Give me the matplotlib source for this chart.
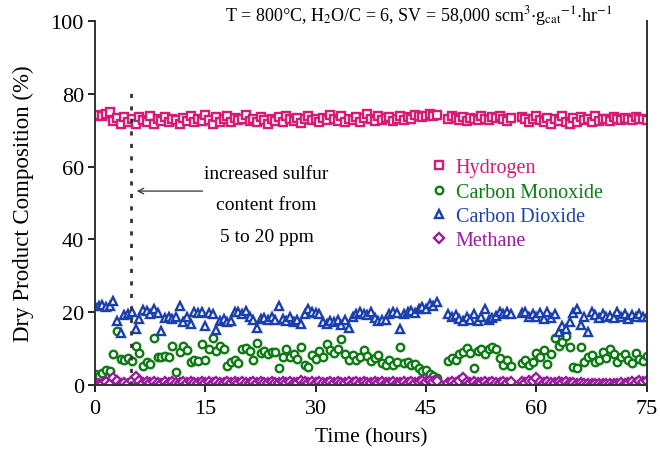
import numpy as np
import matplotlib
matplotlib.use('Agg')
import matplotlib.pyplot as plt

plt.rcParams['font.family'] = ['Liberation Serif', 'DejaVu Serif']
plt.rcParams['mathtext.fontset'] = 'stix'

# sampling every half hour, two short gaps in the record
gap_hours = [47.0, 47.5, 57.0, 57.5]
hours = np.array([h for h in np.arange(0, 75.01, 0.5) if h not in gap_hours])

hydrogen = [
    74.0, 74.2, 74.0, 74.6, 75.0, 72.6, 73.4, 71.8, 73.6, 72.4,
    73.0, 71.6, 73.6, 72.8, 72.2, 73.8, 71.8, 73.2, 72.6, 73.6,
    72.4, 73.0, 72.8, 71.8, 73.4, 72.6, 73.8, 72.2, 73.0, 72.6,
    74.2, 72.8, 71.8, 73.6, 72.4, 73.0, 73.8, 72.2, 73.4, 72.8,
    73.2, 74.2, 72.6, 73.0, 72.4, 73.6, 72.8, 71.8, 73.2, 72.6,
    73.6, 72.2, 74.0, 73.2, 72.6, 73.4, 72.0, 73.0, 73.8, 72.8,
    73.2, 72.4, 73.4, 72.8, 74.2, 73.0, 72.6, 73.8, 72.4, 73.2,
    72.8, 73.6, 72.2, 73.4, 74.4, 73.0, 72.6, 73.8, 72.8, 73.4,
    73.6, 72.6, 73.2, 74.0, 72.8, 73.6, 73.2, 74.2, 74.0, 73.6,
    74.0, 74.4, 73.8, 74.2,
    73.0, 73.8, 73.4, 72.8,
    73.6, 72.6, 73.4, 73.0, 72.8, 73.8, 73.2, 72.8, 73.6, 73.4,
    73.8, 73.0, 72.6, 73.4,
    73.6, 73.0, 72.4, 73.2,
    73.8, 72.8, 72.2, 73.4, 71.8, 73.0, 72.6, 73.8, 72.4, 71.6,
    73.4, 72.2, 73.6, 72.8, 73.0, 72.4, 73.8, 72.6, 73.2, 73.0,
    72.6, 73.6, 73.0, 72.8, 73.4, 73.2, 72.8, 73.6, 73.0, 73.2, 72.8,
]

carbon_monoxide = [
    3.0, 2.6, 3.4, 4.2, 3.8, 8.6, 14.8, 7.2, 6.8, 7.4,
    6.6, 10.6, 8.8, 5.2, 6.4, 5.8, 13.0, 7.8, 7.6, 8.0,
    7.8, 10.6, 3.6, 9.0, 10.8, 9.6, 6.4, 6.8, 6.6, 11.4,
    6.8, 10.0, 13.0, 9.4, 10.6, 9.8, 5.2, 6.4, 7.0, 6.0,
    9.8, 10.2, 9.4, 6.8, 11.6, 8.8, 9.4, 8.6, 9.2, 9.0,
    4.8, 7.6, 10.0, 7.8, 8.4, 7.2, 10.4, 5.6, 5.0, 8.2,
    7.2, 9.4, 7.8, 11.2, 9.6, 8.8, 10.0, 12.6, 8.4, 7.0,
    8.2, 6.8, 7.6, 9.6, 8.0, 6.6, 7.4, 8.2, 6.0, 5.6,
    6.8, 5.4, 6.2, 10.4, 6.0, 6.4, 5.6, 5.8, 4.6, 3.8,
    4.2, 3.0, 2.6, 1.8,
    6.6, 7.4, 6.8, 8.6,
    9.0, 10.2, 8.8, 4.8, 9.4, 10.0, 8.6, 9.8, 10.4, 10.0,
    7.4, 5.6, 6.8, 5.2,
    6.0, 7.0, 5.4, 6.4,
    8.8, 7.6, 9.6, 5.8, 8.4, 12.8, 10.8, 11.8, 13.4, 10.4,
    5.0, 4.6, 10.4, 6.4, 7.6, 8.2, 6.2, 7.0, 9.0, 7.4,
    9.8, 8.6, 6.4, 7.8, 8.4, 7.0, 6.0, 8.8, 7.2, 6.6, 8.0,
]

carbon_dioxide = [
    21.6, 21.8, 22.0, 21.4, 21.8, 23.0, 17.6, 14.2, 19.2, 19.6,
    20.2, 15.4, 18.2, 20.6, 20.4, 19.6, 21.0, 19.8, 14.8, 18.4,
    18.8, 18.2, 18.6, 21.8, 17.4, 18.6, 16.8, 20.0, 19.8, 20.0,
    16.2, 19.8, 19.4, 15.2, 17.6, 18.2, 17.4, 17.6, 20.2, 20.0,
    19.6, 20.4, 18.6, 17.8, 15.6, 18.2, 18.4, 18.0, 18.6, 17.8,
    21.6, 18.2, 17.6, 18.6, 17.2, 18.0, 16.8, 19.4, 21.0, 20.2,
    19.8, 19.4, 17.4, 16.8, 17.6, 17.2, 18.0, 16.6, 17.8, 15.6,
    18.8, 19.4, 20.0, 19.6, 19.2, 20.2, 18.4, 17.6, 18.0, 17.8,
    19.4, 20.2, 19.8, 15.4, 19.6, 20.0, 20.4, 19.8, 21.0, 21.4,
    20.8, 22.2, 21.6, 22.8,
    19.4, 18.6, 19.2, 18.2,
    17.6, 18.8, 18.0, 19.4, 17.6, 18.8, 21.0, 17.8, 18.4, 19.0,
    20.2, 19.6, 20.0, 19.4,
    19.8, 20.2, 18.6, 19.4,
    18.8, 19.8, 18.2, 20.0, 18.4, 19.6, 14.6, 16.2, 15.4, 17.2,
    19.8, 21.0, 16.6, 18.6, 14.6, 20.0, 19.2, 18.4, 19.6, 18.6,
    19.0, 18.4, 20.0, 18.8, 19.6, 18.2, 19.2, 18.6, 19.4, 18.8, 18.6,
]

methane = [
    0.6, 0.2, 0.4, 0.8, 0.4, 2.0, 1.0, 0.2, 0.6, 0.4,
    1.0, 2.2, 1.2, 0.6, 0.8, 0.6, 0.8, 0.6, 0.4, 0.8,
    0.6, 0.8, 0.6, 0.6, 0.8, 0.6, 0.8, 0.6, 0.6, 0.8,
    0.6, 0.8, 0.6, 0.8, 0.6, 0.6, 0.8, 0.6, 0.8, 0.6,
    0.8, 0.6, 0.6, 0.8, 0.6, 0.8, 0.6, 0.6, 0.8, 0.6,
    0.6, 0.8, 0.6, 0.8, 0.6, 0.6, 1.0, 0.8, 0.6, 0.8,
    0.6, 0.8, 0.6, 0.6, 0.8, 0.6, 0.8, 0.6, 0.6, 0.8,
    0.6, 0.8, 0.6, 0.8, 0.6, 0.6, 0.8, 0.6, 0.8, 0.6,
    0.6, 0.8, 0.6, 0.6, 0.8, 0.6, 0.8, 0.6, 0.8, 1.0,
    0.8, 1.0, 0.8, 1.2,
    0.6, 0.8, 0.6, 1.0,
    1.8, 0.8, 0.6, 0.8, 0.6, 0.6, 0.8, 0.6, 0.8, 0.6,
    0.6, 0.8, 0.6, 0.8,
    0.8, 0.6, 1.0, 1.2,
    1.8, 0.8, 0.6, 0.8, 0.6, 0.6, 0.8, 0.6, 0.8, 0.6,
    0.6, 0.4, 0.6, 0.4, 0.2, 0.4, 0.2, 0.4, 0.2, 0.4,
    0.2, 0.4, 0.4, 0.6, 0.4, 0.6, 0.8, 0.6, 1.0, 0.8, 1.0,
]

series = [
    ('Hydrogen', hydrogen, 's', '#d81b72'),
    ('Carbon Monoxide', carbon_monoxide, 'o', '#0e7a12'),
    ('Carbon Dioxide', carbon_dioxide, '^', '#1b3fae'),
    ('Methane', methane, 'D', '#9a1aa0'),
]

fig = plt.figure(figsize=(6.6, 4.52), dpi=100)
ax = fig.add_axes([0.144, 0.146, 0.836, 0.805])

for name, vals, mk, col in series:
    ms = 4.6 if mk == 'D' else 5.4
    ax.plot(hours, vals, linestyle='none', marker=mk, markersize=ms,
            markerfacecolor='white', markeredgecolor=col, markeredgewidth=1.7,
            label=name)

# sulfur switch marker
ax.plot([4.9, 4.9], [0, 80.5], color='#333333', linestyle=(0, (1.5, 3)), lw=2)
ax.annotate('', xy=(5.3, 53.3), xytext=(15.0, 53.3),
            arrowprops=dict(arrowstyle='->', color='#333333', lw=0.9))
ax.text(23.3, 49.5, 'increased sulfur\ncontent from\n5 to 20 ppm', ha='center',
        va='center', fontsize=14, linespacing=2.1)

ax.set_xlim(0, 75)
ax.set_ylim(0, 100)
ax.set_xticks([0, 15, 30, 45, 60, 75])
ax.set_yticks([0, 20, 40, 60, 80, 100])
ax.tick_params(direction='out', length=5, width=1.2, labelsize=16, pad=3)
ax.tick_params(axis='x', pad=5)
ax.spines['top'].set_visible(False)
for s in ['left', 'bottom', 'right']:
    ax.spines[s].set_linewidth(1.4)
    ax.spines[s].set_color('#333333')

ax.set_xlabel('Time (hours)', fontsize=15.5, labelpad=7)
ax.set_ylabel('Dry Product Composition (%)', fontsize=16.5, labelpad=12)

ax.legend(loc='upper left', bbox_to_anchor=(0.586, 0.645), frameon=False,
          fontsize=14.5, handletextpad=0.25, labelspacing=0.25, handlelength=1.2,
          labelcolor='markeredgecolor', borderaxespad=0)

fig.text(0.634, 0.965,
         r'T = 800°C, H$_2$O/C = 6, SV = 58,000 scm$^{3}$$\cdot$g$_{\rm cat}$$^{-1}$$\cdot$hr$^{-1}$',
         ha='center', va='center', fontsize=13)

fig.savefig('out.png', dpi=100)
